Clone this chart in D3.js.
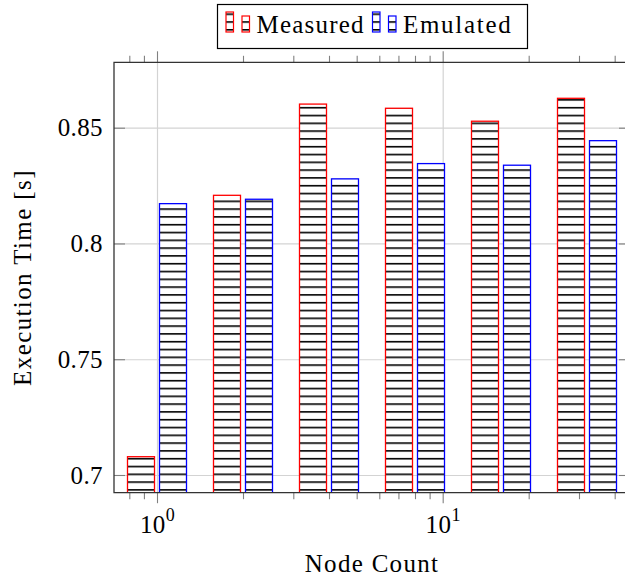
<!DOCTYPE html>
<html>
<head>
<meta charset="utf-8">
<script src="https://cdn.jsdelivr.net/npm/d3@7"></script>
<style>
  body { margin: 0; background: #fff; }
  text { font-family: "Liberation Serif", "DejaVu Serif", serif; fill: #000; }
</style>
</head>
<body>
<div id="chart"></div>
<script>
// data
const nodeCounts = [1, 2, 4, 8, 16, 32];
const measured = [0.7079, 0.8208, 0.8602, 0.8584, 0.8528, 0.8627];
const emulated = [0.8172, 0.8191, 0.8279, 0.8345, 0.8338, 0.8444];
const yTicks = [0.7, 0.75, 0.8, 0.85];
const xTicks = [1, 10];
const seriesNames = ['Measured', 'Emulated'];
const seriesColors = ['#ff0000', '#0000ff'];

const W = 625, H = 578;
const margin = { top: 62.3, right: -5, bottom: 85.3, left: 114 };
const width = W - margin.left - margin.right;
const height = H - margin.top - margin.bottom;

const svg = d3.select('#chart').append('svg')
    .attr('width', W)
    .attr('height', H);

const defs = svg.append('defs');
const hatch = defs.append('pattern')
    .attr('id', 'hatch')
    .attr('patternUnits', 'userSpaceOnUse')
    .attr('width', 10)
    .attr('height', 7.8)
    .attr('y', 489.2);
hatch.append('rect').attr('width', 10).attr('height', 7.8).attr('fill', '#fff');
hatch.append('rect').attr('width', 10).attr('height', 1.6).attr('fill', '#000');

defs.append('clipPath').attr('id', 'plotclip')
    .append('rect')
    .attr('width', width)
    .attr('height', height);

const x = d3.scaleLog()
    .domain([1 / Math.SQRT2, 32 * Math.SQRT2])
    .range([0, width]);

const y = d3.scaleLinear()
    .domain([0.69235, 0.87825])
    .range([height, 0]);

const g = svg.append('g').attr('transform', 'translate(' + margin.left + ',' + margin.top + ')');

// grid
g.append('g')
    .attr('class', 'grid')
    .call(d3.axisLeft(y).tickValues(yTicks).tickSize(-width).tickFormat(''))
    .call(s => s.select('.domain').remove())
    .selectAll('line').attr('stroke', '#d3d3d3').attr('stroke-width', 1.2);
g.append('g')
    .attr('class', 'grid')
    .call(d3.axisBottom(x).tickValues(xTicks).tickSize(height).tickFormat(''))
    .call(s => s.select('.domain').remove())
    .selectAll('line').attr('stroke', '#d3d3d3').attr('stroke-width', 1.2);

// bars
const barW = 27, barGap = 2.5;
const bars = g.append('g').attr('clip-path', 'url(#plotclip)');
[measured, emulated].forEach((vals, si) => {
    bars.append('g')
        .selectAll('rect')
        .data(vals)
        .enter()
        .append('rect')
        .attr('x', (d, i) => x(nodeCounts[i]) + (si === 0 ? -barGap - barW : barGap))
        .attr('y', d => y(d))
        .attr('width', barW)
        .attr('height', d => y(y.domain()[0]) - y(d) + 3)
        .attr('fill', 'url(#hatch)')
        .attr('stroke', seriesColors[si])
        .attr('stroke-width', 1.3);
});

// axes
const tickColor = '#808080';
const minorTicks = x.ticks().filter(t => xTicks.indexOf(t) < 0);

const yAxisL = g.append('g')
    .call(d3.axisLeft(y).tickValues(yTicks).tickSizeInner(-11).tickSizeOuter(0).tickPadding(11)
        .tickFormat(d3.format('')));
const yAxisR = g.append('g')
    .attr('transform', 'translate(' + width + ',0)')
    .call(d3.axisRight(y).tickValues(yTicks).tickSizeInner(-11).tickSizeOuter(0).tickFormat(''));

const xAxisB = g.append('g')
    .attr('transform', 'translate(0,' + height + ')')
    .call(d3.axisBottom(x).tickValues(xTicks).tickSize(10.5).tickSizeOuter(0).tickPadding(14));
const xMinorB = g.append('g')
    .attr('transform', 'translate(0,' + height + ')')
    .call(d3.axisBottom(x).tickValues(minorTicks).tickSize(6.5).tickSizeOuter(0).tickFormat(''));
const xAxisT = g.append('g')
    .call(d3.axisTop(x).tickValues(xTicks).tickSize(11).tickSizeOuter(0).tickFormat(''));
const xMinorT = g.append('g')
    .call(d3.axisTop(x).tickValues(minorTicks).tickSize(6.5).tickSizeOuter(0).tickFormat(''));

[yAxisL, yAxisR, xAxisB, xMinorB, xAxisT, xMinorT].forEach(a => {
    a.selectAll('.domain').remove();
    a.selectAll('.tick line').attr('stroke', tickColor).attr('stroke-width', 1.1);
    a.selectAll('text').attr('font-family', null).attr('font-size', 25).attr('letter-spacing', 0.4);
});

// 10^k labels
xAxisB.selectAll('.tick text').each(function (d) {
    const t = d3.select(this);
    t.text('').attr('dy', null).attr('y', 40).attr('text-anchor', 'middle');
    t.append('tspan').text('10');
    t.append('tspan').attr('font-size', 18).attr('dy', -12).text(Math.round(Math.log10(d)));
});
yAxisL.selectAll('.tick text').attr('dy', '0.33em');

// frame
g.append('path')
    .attr('d', 'M' + width + ',0H0V' + height + 'H' + width)
    .attr('fill', 'none')
    .attr('stroke', '#333')
    .attr('stroke-width', 1.3);

// axis titles
svg.append('text')
    .attr('x', margin.left + width / 2)
    .attr('y', 572)
    .attr('text-anchor', 'middle')
    .attr('font-size', 25)
    .attr('letter-spacing', 1.3)
    .text('Node Count');
svg.append('text')
    .attr('transform', 'translate(31,' + (margin.top + height / 2) + ') rotate(-90)')
    .attr('text-anchor', 'middle')
    .attr('font-size', 25)
    .attr('letter-spacing', 1.4)
    .text('Execution Time [s]');

// legend
const legend = svg.append('g');
legend.append('rect')
    .attr('x', 217.5).attr('y', 4.5)
    .attr('width', 310).attr('height', 44)
    .attr('fill', '#fff')
    .attr('stroke', '#000')
    .attr('stroke-width', 1.2);
const legendX = [226, 372.5];
seriesNames.forEach((name, i) => {
    const lx = legendX[i];
    legend.append('rect')
        .attr('x', lx).attr('y', 12).attr('width', 7.5).attr('height', 20)
        .attr('fill', 'url(#hatch)').attr('stroke', seriesColors[i]).attr('stroke-width', 1.2);
    legend.append('rect')
        .attr('x', lx + 16).attr('y', 16).attr('width', 7.5).attr('height', 16)
        .attr('fill', 'url(#hatch)').attr('stroke', seriesColors[i]).attr('stroke-width', 1.2);
    legend.append('text')
        .attr('x', lx + 30.5).attr('y', 33)
        .attr('font-size', 25)
        .attr('letter-spacing', i === 0 ? 1.2 : 1.7)
        .text(name);
});
</script>
</body>
</html>
